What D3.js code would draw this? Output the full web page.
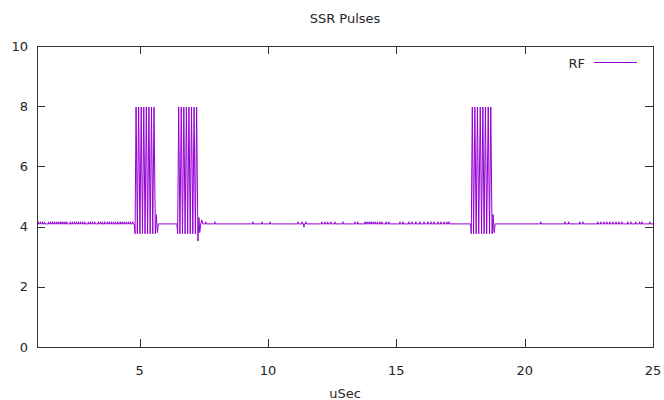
<!DOCTYPE html>
<html>
<head>
<meta charset="utf-8">
<script src="https://cdn.jsdelivr.net/npm/d3@7"></script>
<style>
  html, body { margin: 0; padding: 0; background: #fff; }
  svg text { font-family: "DejaVu Sans", sans-serif; fill: #262626; }
</style>
</head>
<body>
<svg id="chart" width="664" height="400"></svg>
<script>
// ---------- data ----------
const title = "SSR Pulses";
const xLabel = "uSec";
const seriesName = "RF";
const xTicks = [5, 10, 15, 20, 25];
const yTicks = [0, 2, 4, 6, 8, 10];
const xDomain = [1, 25];
const yDomain = [0, 10];
const baseline = 4.09;
const blipLevel = 4.16;

// times (uSec) of the small noise blips on the baseline
const blipTimes = [
  1.05, 1.13, 1.21, 1.29, 1.45, 1.53, 1.61, 1.69, 1.77, 1.85, 1.93, 2.01, 2.09, 2.16,
  2.30, 2.38, 2.46, 2.54, 2.62, 2.70, 2.78, 2.86, 3.00, 3.08, 3.16, 3.25,
  3.39, 3.47, 3.55, 3.64, 3.74, 3.82, 3.90, 3.98, 4.06, 4.15,
  4.24, 4.32, 4.40, 4.48, 4.56, 4.64, 4.73,
  7.58, 7.93, 9.41, 9.77, 10.08, 11.17, 11.33, 11.48,
  12.10, 12.22, 12.33, 12.45, 12.61, 12.92, 13.39, 13.50,
  13.78, 13.86, 13.94, 14.02, 14.10, 14.18, 14.26, 14.36, 14.44, 14.60, 14.71,
  15.14, 15.26, 15.49, 15.61, 15.76, 15.92, 16.08, 16.23, 16.35, 16.47, 16.62,
  16.74, 16.86, 16.97, 17.05,
  20.63, 21.57, 21.72, 22.15, 22.27,
  22.85, 22.97, 23.09, 23.20, 23.32, 23.44, 23.56, 23.67, 23.79,
  24.02, 24.14, 24.33, 24.48, 24.57, 24.88
];
// small dips below the baseline
const dipTimes = [11.40];
const dipLevel = 3.98;

// pulse bursts: [time, value]
const burst1 = [
  [4.79, 4.09], [4.82, 3.76], [4.86, 7.97], [4.91, 3.76], [4.96, 7.97], [5.01, 3.76],
  [5.06, 7.97], [5.11, 3.76], [5.16, 7.97], [5.21, 3.76], [5.26, 7.97], [5.31, 3.76],
  [5.36, 7.97], [5.41, 3.76], [5.46, 7.97], [5.51, 3.76], [5.56, 7.97], [5.61, 3.76],
  [5.65, 4.40], [5.69, 3.80], [5.73, 4.09]
];
const burst2 = [
  [6.45, 4.09], [6.48, 3.76], [6.52, 7.97], [6.57, 3.76], [6.62, 7.97], [6.67, 3.76],
  [6.72, 7.97], [6.77, 3.76], [6.82, 7.97], [6.87, 3.76], [6.92, 7.97], [6.97, 3.76],
  [7.02, 7.97], [7.07, 3.76], [7.12, 7.97], [7.17, 3.76], [7.22, 7.97], [7.27, 3.52],
  [7.31, 4.30], [7.34, 3.80], [7.38, 4.09], [7.42, 4.22], [7.46, 4.09]
];
const burst3 = [
  [17.89, 4.09], [17.92, 3.76], [17.96, 7.97], [18.01, 3.76], [18.06, 7.97], [18.11, 3.76],
  [18.16, 7.97], [18.21, 3.76], [18.27, 7.97], [18.32, 3.76], [18.37, 7.97], [18.42, 3.76],
  [18.47, 7.97], [18.52, 3.76], [18.58, 7.97], [18.63, 3.76], [18.68, 7.97], [18.73, 3.76],
  [18.77, 4.40], [18.81, 3.80], [18.85, 4.09]
];

// ---------- build the series ----------
let pts = [[xDomain[0], baseline], [xDomain[1], baseline]];
blipTimes.forEach(t => { pts.push([t - 0.015, baseline], [t, blipLevel], [t + 0.015, baseline]); });
dipTimes.forEach(t => { pts.push([t - 0.015, baseline], [t, dipLevel], [t + 0.015, baseline]); });
pts = pts.concat(burst1, burst2, burst3);
pts.sort((a, b) => a[0] - b[0]);

// ---------- layout ----------
const L = 37, R = 653, T = 46, B = 347;
const svg = d3.select("#chart");
const x = d3.scaleLinear().domain(xDomain).range([L, R]);
const y = d3.scaleLinear().domain(yDomain).range([B, T]);
const color = "#9400d3";
const axisColor = "#333";
const tickLen = 8;

// ticks (inward, mirrored)
const g = svg.append("g");
xTicks.forEach(v => {
  const px = Math.round(x(v)) + 0.5;
  g.append("line").attr("x1", px).attr("x2", px).attr("y1", B).attr("y2", B - tickLen).attr("stroke", axisColor);
  g.append("line").attr("x1", px).attr("x2", px).attr("y1", T).attr("y2", T + tickLen).attr("stroke", axisColor);
  g.append("text").attr("x", x(v)).attr("y", B + 28).attr("text-anchor", "middle")
    .attr("font-size", 13).text(v);
});
yTicks.forEach(v => {
  const py = Math.round(y(v)) + 0.5;
  g.append("line").attr("x1", L).attr("x2", L + tickLen).attr("y1", py).attr("y2", py).attr("stroke", axisColor);
  g.append("line").attr("x1", R).attr("x2", R - tickLen).attr("y1", py).attr("y2", py).attr("stroke", axisColor);
  g.append("text").attr("x", L - 9).attr("y", y(v)).attr("dy", "0.36em").attr("text-anchor", "end")
    .attr("font-size", 13).text(v);
});

// data line
const line = d3.line().x(d => x(d[0])).y(d => y(d[1]));
svg.append("path").datum(pts).attr("d", line).attr("fill", "none")
  .attr("stroke", color).attr("stroke-width", 1);

// border
svg.append("rect").attr("x", L + 0.5).attr("y", T + 0.5).attr("width", R - L).attr("height", B - T)
  .attr("fill", "none").attr("stroke", axisColor).attr("stroke-width", 1);

// titles
svg.append("text").attr("x", (L + R) / 2).attr("y", 23).attr("text-anchor", "middle")
  .attr("font-size", 13).text(title);
svg.append("text").attr("x", (L + R) / 2).attr("y", 398).attr("text-anchor", "middle")
  .attr("font-size", 13).text(xLabel);

// legend
svg.append("text").attr("x", 585).attr("y", 63).attr("dy", "0.36em").attr("text-anchor", "end")
  .attr("font-size", 13).text(seriesName);
svg.append("line").attr("x1", 594).attr("x2", 637).attr("y1", 62.5).attr("y2", 62.5)
  .attr("stroke", color).attr("stroke-width", 1);
</script>
</body>
</html>
